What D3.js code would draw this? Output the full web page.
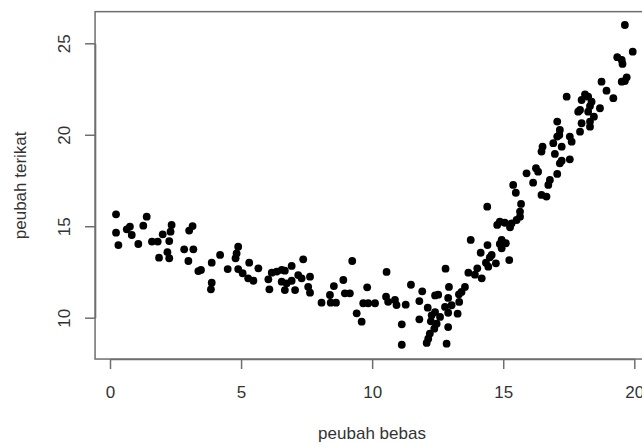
<!DOCTYPE html>
<html>
<head>
<meta charset="utf-8">
<script src="https://cdn.jsdelivr.net/npm/d3@7"></script>
<style>
    body { margin: 0; background: #fff; }
    text { font-family: "Liberation Sans", Arial, sans-serif; }
</style>
</head>
<body>
<div class="scatter_plot"></div>
<script>

var xLabel = "peubah bebas";
var yLabel = "peubah terikat";
var xTicks = [0, 5, 10, 15, 20];
var yTicks = [10, 15, 20, 25];

// values, left to right
var xVals = [
    0.23, 0.23, 0.32, 0.64, 0.76, 0.83, 1.08, 1.27, 1.40, 1.60,
    1.82, 1.87, 2.01, 2.19, 2.26, 2.26, 2.31, 2.35, 2.83, 2.99,
    3.02, 3.15, 3.18, 3.37, 3.47, 3.88, 3.88, 3.85, 4.20, 4.49,
    4.89, 4.83, 4.79, 4.89, 5.06, 5.31, 5.27, 5.47, 5.66, 6.04,
    6.08,
    6.17, 6.36, 6.55, 6.67, 6.93, 7.37, 6.55, 6.74, 6.93, 6.67,
    7.06, 7.18, 7.31, 7.63, 7.56, 7.63, 8.07, 8.39, 8.54, 8.42,
    8.62, 8.90, 8.96, 9.15, 9.24, 9.41, 9.60, 9.66, 9.81, 9.85,
    10.11, 10.55, 10.53, 10.61, 10.87, 10.93,
    12.80, 13.67, 13.92, 11.48, 11.91, 12.93, 13.54, 13.41, 13.31, 12.40,
    12.52, 12.90, 11.80, 13.32, 11.28, 12.12, 12.78, 13.03, 12.40, 12.90,
    13.26, 12.27, 12.59, 11.80, 12.24, 12.46, 11.13, 12.90, 12.37, 12.20,
    12.14, 12.08, 11.13, 12.84,
    15.68, 15.64, 15.64, 15.51, 15.32, 15.26, 15.06, 14.87, 14.77, 14.39,
    14.94, 15.10, 14.94, 14.87, 15.23, 13.76, 14.40, 14.14, 14.56, 14.49,
    14.34, 14.72, 14.43, 14.01, 14.18,
    19.64, 19.94, 19.35, 19.52, 19.55, 19.71, 19.64, 19.52, 18.75, 18.94,
    19.20, 17.42, 18.12, 18.24, 17.99, 18.37, 18.31, 18.69, 17.93, 17.86,
    18.24, 18.46, 17.99, 18.31, 18.31, 17.93, 17.06, 17.16, 17.14, 17.06,
    17.54, 17.61, 16.91, 16.50, 16.46, 17.23, 16.97, 17.23, 17.16, 17.54,
    16.25, 16.33, 15.89, 16.14, 16.78, 16.72, 17.06, 15.38, 15.48, 16.46,
    16.65
];
var yVals = [
    15.65, 14.65, 13.97, 14.83, 14.98, 14.52, 14.03, 15.03, 15.52, 14.16,
    14.16, 13.28, 14.56, 13.58, 13.25, 14.19, 14.70, 15.07, 13.74, 13.10,
    14.76, 15.01, 13.74, 12.55, 12.61, 13.01, 11.91, 11.55, 13.43, 12.66,
    13.88, 13.52, 13.25, 12.66, 12.43, 13.01, 12.15, 12.02, 12.70, 12.10,
    11.55,
    12.46, 12.52, 12.61, 12.57, 12.83, 13.19, 11.97, 11.88, 12.02, 11.51,
    11.51, 12.33, 12.15, 12.24, 11.69, 11.37, 10.82, 11.24, 11.73, 10.82,
    10.82, 12.06, 11.33, 11.33, 13.10, 10.24, 9.78, 10.79, 11.66, 10.79,
    10.79, 12.50, 11.15, 10.87, 10.97, 10.69,
    12.68, 12.46, 12.35, 11.80, 11.44, 11.68, 11.68, 11.41, 11.28, 11.22,
    11.26, 11.08, 10.91, 10.86, 10.71, 10.55, 10.59, 10.68, 10.31, 10.27,
    10.22, 10.13, 10.04, 9.91, 9.80, 9.67, 9.64, 9.49, 9.40, 9.13,
    8.85, 8.62, 8.52, 8.58,
    16.22, 15.80, 15.52, 15.34, 15.16, 14.94, 15.19, 15.25, 15.07, 16.07,
    14.25, 14.07, 13.79, 14.03, 13.15, 14.25, 13.97, 13.55, 13.43, 13.30,
    13.01, 12.97, 12.79, 12.70, 12.15,
    26.00, 24.54, 24.24, 24.09, 23.87, 23.14, 22.94, 22.90, 22.90, 22.41,
    22.00, 22.08, 22.21, 22.08, 21.90, 21.81, 21.57, 21.45, 21.36, 21.26,
    21.26, 20.99, 20.63, 20.72, 20.44, 20.17, 20.72, 20.26, 19.99, 19.90,
    19.90, 19.62, 19.54, 19.35, 19.08, 19.35, 18.95, 18.58, 18.44, 18.66,
    18.17, 17.98, 17.89, 17.38, 17.53, 17.26, 17.86, 17.26, 16.83, 16.71,
    16.62
];

var div_width = 642;
var div_height = 446;
var axisColor = "#6e6e6e";
var textColor = "#333";

var x = d3.scaleLinear().domain([0, 20]).range([110, 634.3]);
var y = d3.scaleLinear().domain([10, 25]).range([317.7, 43.3]);

// plot box limits (R adds 4% on each side)
var xLim = [-0.57, 20.8];
var yLim = [7.74, 26.73];

var svg = d3.select(".scatter_plot").append("svg")
    .attr("width", div_width)
    .attr("height", div_height);

svg.append("rect")
    .attr("x", x(xLim[0]))
    .attr("y", y(yLim[1]))
    .attr("width", x(xLim[1]) - x(xLim[0]))
    .attr("height", y(yLim[0]) - y(yLim[1]))
    .attr("fill", "none")
    .attr("stroke", axisColor)
    .attr("stroke-width", 1.5);

var xAxis = svg.append("g")
    .attr("transform", "translate(0," + y(yLim[0]) + ")")
    .call(d3.axisBottom(x).tickValues(xTicks).tickSize(10).tickPadding(17).tickSizeOuter(0));

var yAxis = svg.append("g")
    .attr("transform", "translate(" + x(xLim[0]) + ",0)")
    .call(d3.axisLeft(y).tickValues(yTicks).tickSize(10).tickSizeOuter(0));

xAxis.select(".domain").attr("stroke", axisColor).attr("stroke-width", 1.5);
yAxis.select(".domain").attr("stroke", axisColor).attr("stroke-width", 1.5);
svg.selectAll(".tick line").attr("stroke", axisColor).attr("stroke-width", 1.5);
svg.selectAll(".tick text")
    .attr("fill", textColor)
    .style("font-size", "17px");

yAxis.selectAll(".tick text")
    .attr("x", null)
    .attr("dy", null)
    .attr("text-anchor", "middle")
    .attr("transform", "translate(-25,0) rotate(-90)");

svg.append("g")
    .selectAll("circle")
    .data(xVals)
    .enter()
    .append("circle")
    .attr("cx", function (d) { return x(d); })
    .attr("cy", function (d, i) { return y(yVals[i]); })
    .attr("r", 3.9)
    .attr("fill", "#000");

svg.append("text")
    .attr("x", 372)
    .attr("y", 439)
    .attr("text-anchor", "middle")
    .attr("fill", textColor)
    .style("font-size", "17px")
    .text(xLabel);

svg.append("text")
    .attr("transform", "translate(26," + ((y(yLim[0]) + y(yLim[1])) / 2) + ") rotate(-90)")
    .attr("text-anchor", "middle")
    .attr("fill", textColor)
    .style("font-size", "17px")
    .text(yLabel);

</script>
</body>
</html>
